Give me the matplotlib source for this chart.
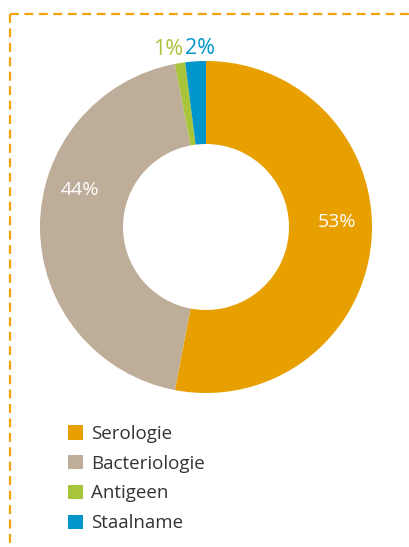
import numpy as np
import matplotlib
matplotlib.use('Agg')
import matplotlib.pyplot as plt

labels = ['Serologie', 'Bacteriologie', 'Antigeen', 'Staalname']
values = [53, 44, 1, 2]
pct_text = ['53%', '44%', '1%', '2%']
colors = ['#E8A000', '#BEAD98', '#A8C43A', '#0095CB']
text_colors = ['white', 'white', '#A8C43A', '#0095CB']
# label placement: radius (px), angle shift (deg) from the wedge middle, size
label_radius = [131, 131, 181, 179]
label_shift = [7.5, -16.4, 3.0, -1.6]
label_size = [14, 14, 15.5, 15.5]

plt.rcParams['font.family'] = ['Open Sans', 'DejaVu Sans']

W, H = 409, 547
fig = plt.figure(figsize=(W / 100, H / 100), dpi=100)
ax = fig.add_axes([0, 0, 1, 1])

cx, cy, r_out = 206, H - 227, 166
wedges, _ = ax.pie(values, colors=colors, startangle=90, counterclock=False,
                   center=(cx, cy), radius=r_out, frame=True,
                   wedgeprops=dict(width=r_out * 0.5, linewidth=0))

for w, txt, tc, rr, sh, fs in zip(wedges, pct_text, text_colors, label_radius,
                                  label_shift, label_size):
    mid = np.deg2rad((w.theta1 + w.theta2) / 2 + sh)
    ax.text(cx + rr * np.cos(mid), cy + rr * np.sin(mid), txt, color=tc,
            fontsize=fs, ha='center', va='center')

# dashed frame
frame_kw = dict(color='#F0A30A', linewidth=1.6, linestyle=(0, (4, 2.5)))
ax.plot([10, W], [H - 14, H - 14], **frame_kw)
ax.plot([10, 10], [H - 14, 0], **frame_kw)

ax.legend(wedges, labels, loc='upper left', bbox_to_anchor=(51 / W, 1 - 408 / H),
          frameon=False, fontsize=13.5, handlelength=0.8, handleheight=0.8,
          handletextpad=0.45, labelspacing=0.63, labelcolor='#333333')

ax.set_xlim(0, W)
ax.set_ylim(0, H)
ax.set_aspect('auto')
ax.axis('off')

fig.savefig('out.png', dpi=100)
